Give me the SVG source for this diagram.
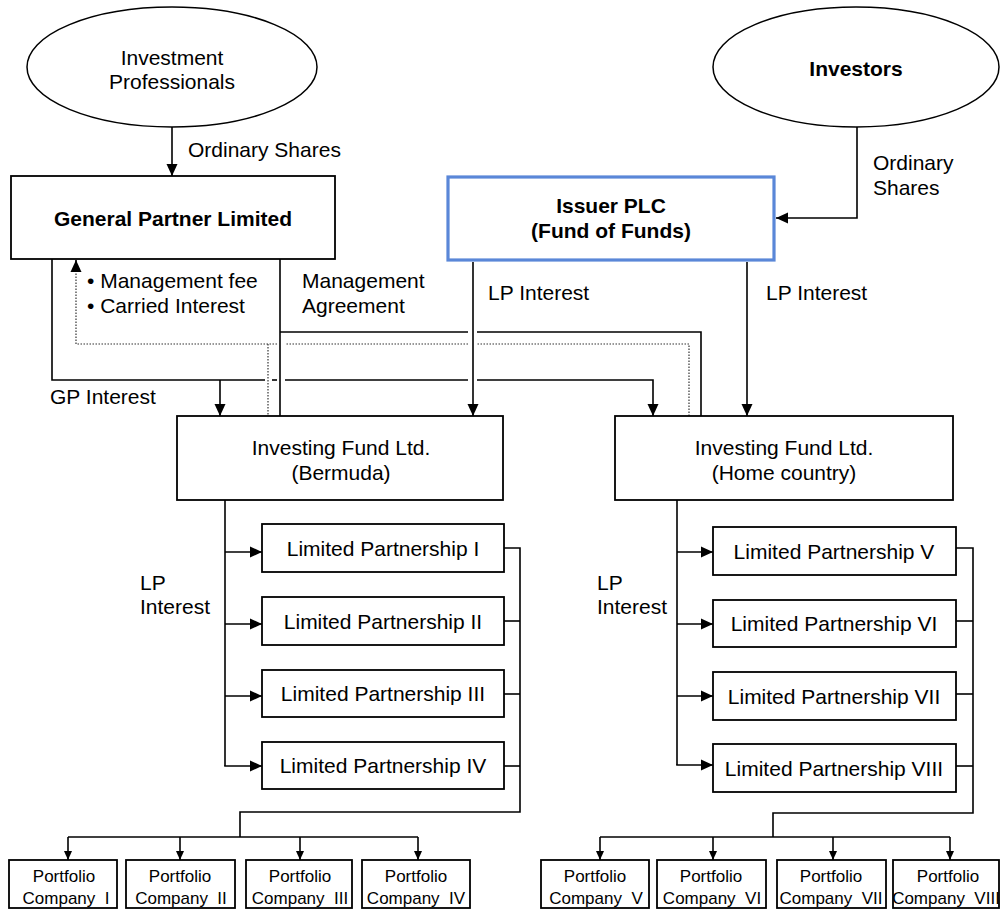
<svg xmlns="http://www.w3.org/2000/svg" width="1000" height="911" viewBox="0 0 1000 911">
  <defs>
    <style>
      text { font-family: "Liberation Sans", Arial, sans-serif; font-size: 21px; fill: #000; }
      .c { text-anchor: middle; }
      .b { font-weight: bold; }
      .sm { font-size: 17px; white-space: pre; }
      .box { fill: #fff; stroke: #000; stroke-width: 1.8; }
      .oval { fill: #fff; stroke: #000; stroke-width: 1.5; }
      .issuer { fill: #fff; stroke: #5a87d8; stroke-width: 3.2; }
      .ln { fill: none; stroke: #000; stroke-width: 1.6; }
      .dot { fill: none; stroke: #333; stroke-width: 1.2; stroke-dasharray: 1.5 1.5; }
    </style>
    <marker id="ah" viewBox="0 0 12 12" refX="12" refY="6" markerWidth="12" markerHeight="12" markerUnits="userSpaceOnUse" orient="auto">
      <path d="M0,0.5 L12,6 L0,11.5 z" fill="#000"/>
    </marker>
    <marker id="ahs" viewBox="0 0 9 8" refX="9" refY="4" markerWidth="9" markerHeight="8" markerUnits="userSpaceOnUse" orient="auto">
      <path d="M0,0 L9,4 L0,8 z" fill="#000"/>
    </marker>
  </defs>

  <!-- connectors -->
  <g id="connectors">
    <!-- ordinary shares -->
    <path class="ln" d="M172,127 V176" marker-end="url(#ah)"/>
    <path class="ln" d="M857,127 V218 H776" marker-end="url(#ah)"/>

    <!-- GP interest -->
    <path class="ln" d="M52,259 V380 H265"/>
    <path class="ln" d="M272,380 H277"/>
    <path class="ln" d="M285,380 H468"/>
    <path class="ln" d="M477,380 H653 V416" marker-end="url(#ah)"/>
    <path class="ln" d="M220,380 V416" marker-end="url(#ah)"/>

    <!-- management agreement -->
    <path class="ln" d="M280,259 V416"/>
    <path class="ln" d="M280,332 H468"/>
    <path class="ln" d="M477,332 H701 V416"/>

    <!-- management fee / carried interest -->
    <path class="dot" d="M689,416 V344 H477"/>
    <path class="dot" d="M468,344 H285"/>
    <path class="dot" d="M277,344 H76 V262"/>
    <path class="ln" d="M76,272 V260" marker-end="url(#ah)"/>
    <path class="dot" d="M268,344 V416"/>

    <!-- LP interest from issuer -->
    <path class="ln" d="M473,262 V416" marker-end="url(#ah)"/>
    <path class="ln" d="M747,262 V416" marker-end="url(#ah)"/>

    <!-- Bermuda fund to partnerships -->
    <path class="ln" d="M225,500 V766"/>
    <path class="ln" d="M225,552 H262" marker-end="url(#ah)"/>
    <path class="ln" d="M225,624 H262" marker-end="url(#ah)"/>
    <path class="ln" d="M225,696 H262" marker-end="url(#ah)"/>
    <path class="ln" d="M224.2,766 H262" marker-end="url(#ah)"/>

    <!-- partnerships I-IV to portfolio companies -->
    <path class="ln" d="M504,548 H520 V812 H240 V837"/>
    <path class="ln" d="M504,621 H520"/>
    <path class="ln" d="M504,694 H520"/>
    <path class="ln" d="M504,766 H520"/>
    <path class="ln" d="M68,837 H418"/>
    <path class="ln" d="M68,837 V860" marker-end="url(#ahs)"/>
    <path class="ln" d="M180,837 V860" marker-end="url(#ahs)"/>
    <path class="ln" d="M300,837 V860" marker-end="url(#ahs)"/>
    <path class="ln" d="M418,837 V860" marker-end="url(#ahs)"/>

    <!-- home fund to partnerships -->
    <path class="ln" d="M677,500 V765"/>
    <path class="ln" d="M677,552 H713" marker-end="url(#ah)"/>
    <path class="ln" d="M677,624 H713" marker-end="url(#ah)"/>
    <path class="ln" d="M677,696 H713" marker-end="url(#ah)"/>
    <path class="ln" d="M676.2,765 H713" marker-end="url(#ah)"/>

    <!-- partnerships V-VIII to portfolio companies -->
    <path class="ln" d="M956,548 H973 V813 H773 V837"/>
    <path class="ln" d="M956,621 H973"/>
    <path class="ln" d="M956,694 H973"/>
    <path class="ln" d="M956,766 H973"/>
    <path class="ln" d="M600,837 H950"/>
    <path class="ln" d="M600,837 V860" marker-end="url(#ahs)"/>
    <path class="ln" d="M713,837 V860" marker-end="url(#ahs)"/>
    <path class="ln" d="M833,837 V860" marker-end="url(#ahs)"/>
    <path class="ln" d="M950,837 V860" marker-end="url(#ahs)"/>
  </g>

  <!-- connector labels -->
  <g id="labels">
    <text x="188" y="157">Ordinary Shares</text>
    <text x="873" y="170">Ordinary</text>
    <text x="873" y="195">Shares</text>
    <text x="87" y="288">• Management fee</text>
    <text x="87" y="313">• Carried Interest</text>
    <text x="302" y="288">Management</text>
    <text x="302" y="313">Agreement</text>
    <text x="488" y="300">LP Interest</text>
    <text x="766" y="300">LP Interest</text>
    <text x="50" y="404">GP Interest</text>
    <text x="140" y="590">LP</text>
    <text x="140" y="614">Interest</text>
    <text x="597" y="590">LP</text>
    <text x="597" y="614">Interest</text>
  </g>

  <g id="investment-professionals">
    <ellipse class="oval" cx="172" cy="67" rx="145" ry="60"/>
    <text class="c" x="172" y="65">Investment</text>
    <text class="c" x="172" y="89">Professionals</text>
  </g>

  <g id="investors">
    <ellipse class="oval" cx="856" cy="67" rx="143" ry="60"/>
    <text class="c b" x="856" y="76">Investors</text>
  </g>

  <g id="general-partner">
    <rect class="box" x="11" y="176" width="324" height="83"/>
    <text class="c b" x="173" y="226">General Partner Limited</text>
  </g>

  <g id="issuer">
    <rect class="issuer" x="448" y="177" width="326" height="83"/>
    <text class="c b" x="611" y="213">Issuer PLC</text>
    <text class="c b" x="611" y="238">(Fund of Funds)</text>
  </g>

  <g id="fund-bermuda">
    <rect class="box" x="177" y="416" width="326" height="84"/>
    <text class="c" x="341" y="455">Investing Fund Ltd.</text>
    <text class="c" x="341" y="480">(Bermuda)</text>
  </g>

  <g id="fund-home">
    <rect class="box" x="615" y="416" width="338" height="84"/>
    <text class="c" x="784" y="455">Investing Fund Ltd.</text>
    <text class="c" x="784" y="480">(Home country)</text>
  </g>

  <g id="lp-1">
    <rect class="box" x="262" y="524" width="242" height="48"/>
    <text class="c" x="383" y="556">Limited Partnership I</text>
  </g>
  <g id="lp-2">
    <rect class="box" x="262" y="597" width="242" height="48"/>
    <text class="c" x="383" y="629">Limited Partnership II</text>
  </g>
  <g id="lp-3">
    <rect class="box" x="262" y="670" width="242" height="47"/>
    <text class="c" x="383" y="701">Limited Partnership III</text>
  </g>
  <g id="lp-4">
    <rect class="box" x="262" y="742" width="242" height="47"/>
    <text class="c" x="383" y="773">Limited Partnership IV</text>
  </g>

  <g id="lp-5">
    <rect class="box" x="713" y="527" width="243" height="48"/>
    <text class="c" x="834" y="559">Limited Partnership V</text>
  </g>
  <g id="lp-6">
    <rect class="box" x="713" y="600" width="243" height="47"/>
    <text class="c" x="834" y="631">Limited Partnership VI</text>
  </g>
  <g id="lp-7">
    <rect class="box" x="713" y="672" width="243" height="48"/>
    <text class="c" x="834" y="704">Limited Partnership VII</text>
  </g>
  <g id="lp-8">
    <rect class="box" x="713" y="744" width="243" height="48"/>
    <text class="c" x="834" y="776">Limited Partnership VIII</text>
  </g>

  <g id="pc-1">
    <rect class="box" x="9" y="860" width="108" height="48"/>
    <text class="c sm" x="64" y="882">Portfolio</text>
    <text class="c sm" x="66" y="904">Company  I</text>
  </g>
  <g id="pc-2">
    <rect class="box" x="126" y="860" width="109" height="48"/>
    <text class="c sm" x="180" y="882">Portfolio</text>
    <text class="c sm" x="181" y="904">Company  II</text>
  </g>
  <g id="pc-3">
    <rect class="box" x="246" y="860" width="106" height="48"/>
    <text class="c sm" x="300" y="882">Portfolio</text>
    <text class="c sm" x="300" y="904">Company  III</text>
  </g>
  <g id="pc-4">
    <rect class="box" x="362" y="860" width="108" height="48"/>
    <text class="c sm" x="416" y="882">Portfolio</text>
    <text class="c sm" x="416" y="904">Company  IV</text>
  </g>

  <g id="pc-5">
    <rect class="box" x="541" y="860" width="108" height="48"/>
    <text class="c sm" x="595" y="882">Portfolio</text>
    <text class="c sm" x="596" y="904">Company  V</text>
  </g>
  <g id="pc-6">
    <rect class="box" x="657" y="860" width="109" height="48"/>
    <text class="c sm" x="711" y="882">Portfolio</text>
    <text class="c sm" x="712" y="904">Company  VI</text>
  </g>
  <g id="pc-7">
    <rect class="box" x="777" y="860" width="109" height="48"/>
    <text class="c sm" x="831" y="882">Portfolio</text>
    <text class="c sm" x="831" y="904">Company  VII</text>
  </g>
  <g id="pc-8">
    <rect class="box" x="893" y="860" width="106" height="48"/>
    <text class="c sm" x="948" y="882">Portfolio</text>
    <text class="c sm" x="946" y="904">Company  VIII</text>
  </g>
</svg>
